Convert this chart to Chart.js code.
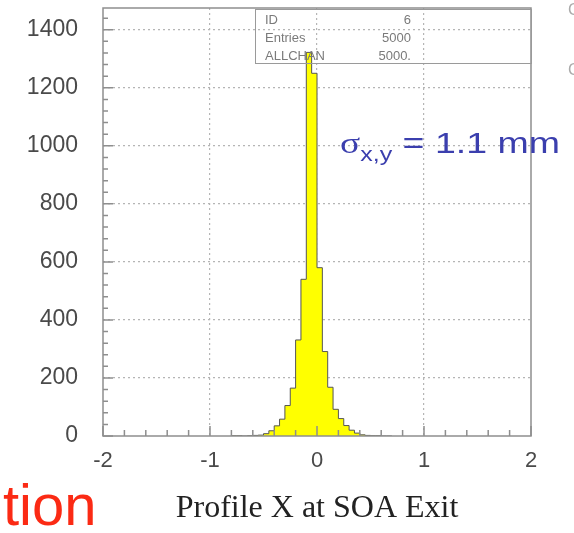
<!DOCTYPE html>
<html><head><meta charset="utf-8">
<script src="https://cdn.jsdelivr.net/npm/chart.js@4/dist/chart.umd.min.js"></script>
<style>
html,body{margin:0;padding:0;background:#fff;overflow:hidden;width:574px;height:533px;}
#wrap{position:relative;width:574px;height:533px;overflow:hidden;}
canvas{position:absolute;left:0;top:0;}
.ann{position:absolute;white-space:nowrap;line-height:1;}
#stats{position:absolute;left:255px;top:9px;width:275px;height:53px;border:1px solid #9a9a9a;font-family:'Liberation Sans',Arial,sans-serif;font-size:13px;color:#7a7a7a;}
#stats .l{position:absolute;left:9px;}
#stats .v{position:absolute;right:120px;text-align:right;}
</style></head><body>
<div id="wrap">
<canvas id="c" width="574" height="533"></canvas>
<div id="stats">
  <div class="l" style="top:2px">ID</div><div class="v" style="top:2px">6</div>
  <div class="l" style="top:20px">Entries</div><div class="v" style="top:20px">5000</div>
  <div class="l" style="top:38px">ALLCHAN</div><div class="v" style="top:38px">5000.</div>
</div>
<div class="ann" style="left:340px;top:128px;color:#3b3fae;transform:scaleX(1.25);transform-origin:0 0;">
  <span style="font-family:'Liberation Serif',serif;font-size:30px;">σ</span><span style="font-family:'Liberation Sans',Arial,sans-serif;font-size:20px;position:relative;top:8px;">x,y</span><span style="font-family:'Liberation Sans',Arial,sans-serif;font-size:30px;"> = 1.1 mm</span>
</div>
<div class="ann" style="left:3px;top:476px;color:#fb2a14;font-family:'Liberation Sans',Arial,sans-serif;font-size:58px;">tion</div>
<div class="ann" style="left:568px;top:2px;color:#aaa;font-family:'Liberation Sans',Arial,sans-serif;font-size:16px;">C</div>
<div class="ann" style="left:568px;top:62px;color:#aaa;font-family:'Liberation Sans',Arial,sans-serif;font-size:16px;">C</div>
</div>
<script>
// Histogram: bin lower edges (x, in units) and entries per bin
const binWidth = 0.05;
const binLow = [-0.80,-0.75,-0.70,-0.65,-0.60,-0.55,-0.50,-0.45,-0.40,-0.35,-0.30,-0.25,-0.20,-0.15,-0.10,-0.05,
                 0.00, 0.05, 0.10, 0.15, 0.20, 0.25, 0.30, 0.35, 0.40, 0.45, 0.50, 0.55, 0.60, 0.65];
const counts = [0,1,1,0,1,2,3,8,18,35,58,105,165,331,540,1322,
                1250,580,291,168,92,60,36,20,10,4,2,1,1,0];
const xTickValues = [-2,-1,0,1,2];
const xTickLabels = ['-2','-1','0','1','2'];
const yTickValues = [0,200,400,600,800,1000,1200,1400];
const yTickLabels = ['0','200','400','600','800','1000','1200','1400'];
const xMinorStep = 0.2;
const yMinorStep = 40;

const pts = binLow.map((x,i)=>({x:x,y:counts[i]}));
pts.push({x: binLow[binLow.length-1]+binWidth, y:0});

const frameTicks = {
  id:'frameTicks',
  afterDatasetsDraw(chart){
    const ctx = chart.ctx, a = chart.chartArea;
    const xs = chart.scales.x, ys = chart.scales.y;
    ctx.save();
    ctx.strokeStyle = '#8e8e8e';
    ctx.lineWidth = 1.5;
    ctx.beginPath();
    for (let v = xs.min; v <= xs.max + 1e-9; v += xMinorStep) {
      const px = xs.getPixelForValue(v);
      const major = Math.abs(v - Math.round(v)) < 1e-6;
      const len = major ? 10 : 6;
      ctx.moveTo(px, a.bottom); ctx.lineTo(px, a.bottom - len);
    }
    for (let v = 0; v <= ys.max; v += yMinorStep) {
      const py = ys.getPixelForValue(v);
      const major = v % 200 === 0;
      const len = major ? 10 : 5;
      ctx.moveTo(a.left, py); ctx.lineTo(a.left + len, py);
    }
    ctx.stroke();
    ctx.strokeRect(a.left, a.top, a.right - a.left, a.bottom - a.top);
    ctx.restore();
  }
};

new Chart(document.getElementById('c'), {
  type:'line',
  data:{datasets:[{
    data: pts,
    stepped:'after',
    fill:'origin',
    backgroundColor:'#ffff00',
    borderColor:'#555555',
    borderWidth:1,
    pointRadius:0
  }]},
  options:{
    responsive:false,
    animation:false,
    devicePixelRatio:1,
    layout:{padding:{top:8,right:43,left:0,bottom:0}},
    plugins:{legend:{display:false},tooltip:{enabled:false}},
    scales:{
      x:{
        type:'linear', min:-2, max:2,
        afterBuildTicks(s){ s.ticks = xTickValues.map(v=>({value:v})); },
        afterFit(s){ s.height = 97; s.paddingLeft = 0; s.paddingRight = 0; },
        ticks:{
          callback:(v,i)=>xTickLabels[i],
          color:'#4a4a4a',
          font:{family:"'Liberation Sans', Arial, sans-serif", size:22},
          padding:12, maxRotation:0
        },
        grid:{
          drawTicks:false,
          color:(c)=> (c.tick && Math.abs(c.tick.value)===2) ? 'rgba(0,0,0,0)' : '#b5b5b5',
          lineWidth:1.2
        },
        border:{display:false, dash:[2,3]},
        title:{
          display:true, text:'Profile X at SOA Exit', color:'#222',
          font:{family:"'Liberation Serif', 'Times New Roman', serif", size:32},
          padding:{top:0,bottom:5}
        }
      },
      y:{
        min:0, max:1475,
        afterBuildTicks(s){ s.ticks = yTickValues.map(v=>({value:v})); },
        afterFit(s){ s.width = 103; s.paddingTop = 0; s.paddingBottom = 0; },
        ticks:{
          callback:(v,i)=>yTickLabels[i],
          color:'#4a4a4a',
          font:{family:"'Liberation Sans', Arial, sans-serif", size:23},
          padding:25
        },
        grid:{
          drawTicks:false,
          color:(c)=> (c.tick && c.tick.value===0) ? 'rgba(0,0,0,0)' : '#b5b5b5',
          lineWidth:1.2
        },
        border:{display:false, dash:[2,3]}
      }
    }
  },
  plugins:[frameTicks]
});
</script>
</body></html>
